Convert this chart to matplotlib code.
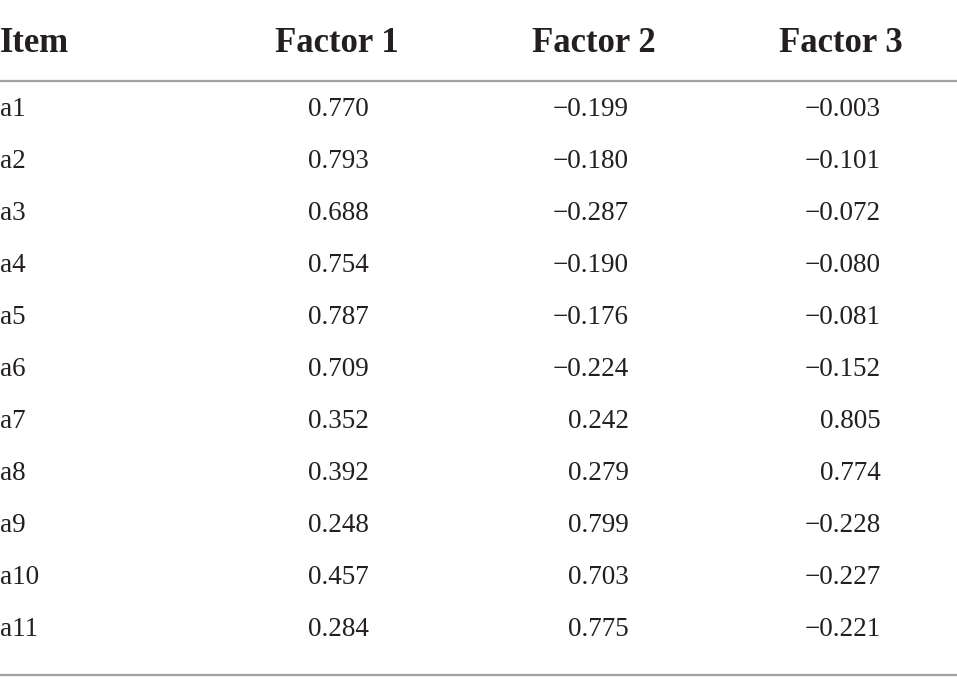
import matplotlib.pyplot as plt

# table contents
items = ['a1', 'a2', 'a3', 'a4', 'a5', 'a6', 'a7', 'a8', 'a9', 'a10', 'a11']
factor1 = [0.770, 0.793, 0.688, 0.754, 0.787, 0.709, 0.352, 0.392, 0.248, 0.457, 0.284]
factor2 = [-0.199, -0.180, -0.287, -0.190, -0.176, -0.224, 0.242, 0.279, 0.799, 0.703, 0.775]
factor3 = [-0.003, -0.101, -0.072, -0.080, -0.081, -0.152, 0.805, 0.774, -0.228, -0.227, -0.221]
headers = ['Item', 'Factor 1', 'Factor 2', 'Factor 3']


def fmt(v):
    s = '{:.3f}'.format(abs(v))
    return '\u2212' + s if v < 0 else s


plt.rcParams['font.family'] = ['Liberation Serif', 'DejaVu Serif']
txt_col = '#231f20'

fig = plt.figure(figsize=(9.57, 6.88), dpi=100)
ax = fig.add_axes([0, 0, 1, 1])
ax.set_xlim(0, 957)
ax.set_ylim(688, 0)
ax.axis('off')

# header
head_y = 44
ax.text(0, head_y, headers[0], ha='left', va='center', fontsize=25,
        fontweight='bold', color=txt_col)
head_x = [337, 594, 841]
for x, h in zip(head_x, headers[1:]):
    ax.text(x, head_y, h, ha='center', va='center', fontsize=25,
            fontweight='bold', color=txt_col)

ax.plot([0, 957], [81, 81], color='#a0a0a0', lw=1.6)
ax.plot([0, 957], [675, 675], color='#a0a0a0', lw=1.6)

row0 = 110
step = 52
col_right = [369, 629, 881]
for i, it in enumerate(items):
    y = row0 + i * step
    ax.text(0, y, it, ha='left', va='center', fontsize=19.5, color=txt_col)
    for x, col in zip(col_right, [factor1, factor2, factor3]):
        ax.text(x, y, fmt(col[i]), ha='right', va='center', fontsize=19.5,
                color=txt_col)

plt.savefig('out.png', dpi=100)
